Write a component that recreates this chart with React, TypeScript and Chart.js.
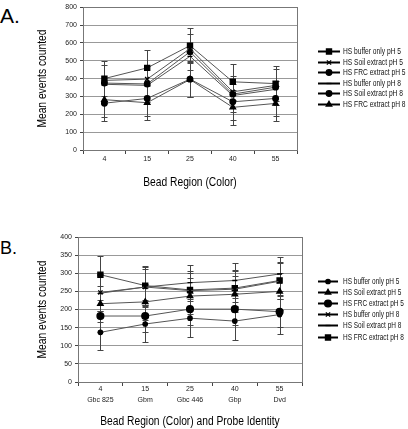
import React, { useEffect, useRef } from "react";
import { Chart, registerables } from "chart.js";
import { drawPoint } from "chart.js/helpers";

Chart.register(...registerables);

// ---------- Chart A data ----------
const categoriesA = ["4", "15", "25", "40", "55"];
const yTicksA = { min: 0, max: 800, step: 100 };
const namesA = [
  "HS buffer only pH 5",
  "HS Soil extract pH 5",
  "HS FRC extract pH 5",
  "HS buffer only pH 8",
  "HS Soil extract pH 8",
  "HS FRC extract pH 8",
];
const aBufferPH5 = [400, 460, 585, 382, 372];
const aSoilPH5 = [390, 397, 568, 326, 362];
const aFrcPH5 = [375, 370, 550, 313, 352];
const aBufferPH8 = [368, 362, 525, 305, 340];
const aSoilPH8 = [262, 289, 397, 270, 289];
const aFrcPH8 = [282, 265, 395, 239, 261];
const aErrBufferPH5 = [100, 100, 100, 100, 100];
const aErrSoilPH5 = [0, 0, 0, 0, 0];
const aErrFrcPH5 = [100, 100, 100, 100, 100];
const aErrBufferPH8 = [0, 0, 0, 0, 0];
const aErrSoilPH8 = [100, 100, 100, 100, 100];
const aErrFrcPH8 = [97, 97, 97, 97, 97];

// ---------- Chart B data ----------
const categoriesB = [
  ["4", "Gbc 825"],
  ["15", "Gbm"],
  ["25", "Gbc 446"],
  ["40", "Gbp"],
  ["55", "Dvd"],
];
const yTicksB = { min: 0, max: 400, step: 50 };
const namesB = [
  "HS buffer only pH 5",
  "HS Soil extract pH 5",
  "HS FRC extract pH 5",
  "HS buffer only pH 8",
  "HS Soil extract pH 8",
  "HS FRC extract pH 8",
];
const bBufferPH5 = [137, 160, 176, 168, 186];
const bSoilPH5 = [216, 221, 237, 242, 250];
const bFrcPH5 = [182, 182, 201, 201, 194];
const bBufferPH8 = [247, 262, 252, 256, 278];
const bSoilPH8 = [245, 262, 274, 280, 298];
const bFrcPH8 = [296, 266, 254, 259, 280];
const bErrBufferPH5 = [50, 50, 52, 52, 54];
const bErrSoilPH5 = [50, 50, 50, 50, 50];
const bErrFrcPH5 = [45, 45, 45, 45, 42];
const bErrBufferPH8 = [50, 50, 50, 50, 50];
const bErrSoilPH8 = [50, 55, 50, 48, 47];
const bErrFrcPH8 = [51, 54, 51, 50, 50];

const SANS = "'Liberation Sans', Arial, sans-serif";
const SQUEEZE = 0.82;

function ds(label: string, data: number[], err: number[], pointStyle: string, radius: number) {
  return {
    label,
    data,
    err,
    pointStyle,
    pointRadius: radius,
    pointHoverRadius: radius,
    borderColor: "#555",
    borderWidth: 1,
    pointBackgroundColor: "#000",
    pointBorderColor: "#000",
    pointBorderWidth: 1.3,
    fill: false,
    tension: 0,
  };
}

const errorBarPlugin = {
  id: "errorBars",
  beforeDatasetsDraw(chart: any) {
    const { ctx } = chart;
    const xs = chart.scales.x;
    const ys = chart.scales.y;
    ctx.save();
    ctx.strokeStyle = "#444";
    ctx.lineWidth = 1;
    chart.data.datasets.forEach((d: any) => {
      if (!d.err) return;
      d.data.forEach((v: number, i: number) => {
        const e = d.err[i];
        if (!e) return;
        const x = Math.round(xs.getPixelForValue(i)) + 0.5;
        const yt = Math.round(ys.getPixelForValue(v + e)) + 0.5;
        const yb = Math.round(ys.getPixelForValue(v - e)) + 0.5;
        ctx.beginPath();
        ctx.moveTo(x, yt);
        ctx.lineTo(x, yb);
        ctx.moveTo(x - 3, yt);
        ctx.lineTo(x + 3, yt);
        ctx.moveTo(x - 3, yb);
        ctx.lineTo(x + 3, yb);
        ctx.stroke();
      });
    });
    ctx.restore();
  },
};

const framePlugin = {
  id: "frame",
  beforeDatasetsDraw(chart: any) {
    const { ctx, chartArea: a } = chart;
    ctx.save();
    ctx.strokeStyle = "#777";
    ctx.lineWidth = 1;
    ctx.strokeRect(Math.round(a.left) + 0.5, Math.round(a.top) + 0.5, Math.round(a.right - a.left), Math.round(a.bottom - a.top));
    ctx.restore();
  },
};

const titlePlugin = {
  id: "axisTitles",
  afterDraw(chart: any, _args: any, opts: any) {
    const { ctx, chartArea: a } = chart;
    ctx.save();
    ctx.fillStyle = "#000";
    ctx.font = `${opts.size}px ${SANS}`;
    ctx.textAlign = "center";
    ctx.textBaseline = "middle";
    ctx.save();
    ctx.translate((a.left + a.right) / 2, opts.xTitleY);
    ctx.scale(SQUEEZE, 1);
    ctx.fillText(opts.xText, 0, 0);
    ctx.restore();
    ctx.save();
    ctx.translate(opts.yTitleX, (a.top + a.bottom) / 2);
    ctx.rotate(-Math.PI / 2);
    ctx.scale(SQUEEZE, 1);
    ctx.fillText(opts.yText, 0, 0);
    ctx.restore();
    ctx.restore();
  },
};

const legendPlugin = {
  id: "sideLegend",
  afterDraw(chart: any, _args: any, opts: any) {
    const { ctx } = chart;
    ctx.save();
    chart.data.datasets.forEach((d: any, i: number) => {
      const y = Math.round(opts.y + i * opts.spacing) + 0.5;
      ctx.strokeStyle = "#000";
      ctx.lineWidth = 2;
      ctx.beginPath();
      ctx.moveTo(opts.x, y);
      ctx.lineTo(opts.x + opts.lineLen, y);
      ctx.stroke();
      ctx.fillStyle = "#000";
      ctx.strokeStyle = "#000";
      ctx.lineWidth = 1.3;
      drawPoint(ctx, { pointStyle: d.pointStyle, radius: d.pointRadius, rotation: 0, borderWidth: 1.3 }, opts.x + opts.lineLen / 2, y);
      ctx.fillStyle = "#111";
      ctx.font = `${opts.fontSize}px ${SANS}`;
      ctx.textBaseline = "middle";
      ctx.textAlign = "left";
      ctx.save();
      ctx.translate(opts.textX, y);
      ctx.scale(opts.squeeze, 1);
      ctx.fillText(d.label, 0, 0);
      ctx.restore();
    });
    ctx.restore();
  },
};

function makeConfig(p: any) {
  return {
    type: "line",
    data: { labels: p.labels, datasets: p.datasets },
    plugins: [framePlugin, errorBarPlugin, legendPlugin, titlePlugin],
    options: {
      responsive: false,
      animation: false,
      devicePixelRatio: 1,
      layout: { padding: { left: 0, right: p.padRight, top: p.padTop, bottom: 0 } },
      plugins: {
        legend: { display: false },
        tooltip: { enabled: false },
        sideLegend: p.legend,
        axisTitles: { size: 12.5, xText: p.xTitle, yText: "Mean events counted", xTitleY: p.xTitleY, yTitleX: 43 },
      },
      scales: {
        x: {
          type: "category",
          offset: true,
          grid: { display: true, offset: true, drawOnChartArea: false, tickLength: 4, tickColor: "#444", color: "#444" },
          border: { display: true, color: "#444" },
          ticks: { color: "#222", font: { family: SANS, size: 7, lineHeight: p.xLineHeight }, padding: p.xTickPad, autoSkip: false, maxRotation: 0 },
          title: { display: false },
          afterFit: (s: any) => { s.height = p.xHeight; },
        },
        y: {
          min: p.yTicks.min,
          max: p.yTicks.max,
          grid: { color: "#999", lineWidth: 1, tickLength: 3, tickColor: "#444" },
          border: { display: true, color: "#444" },
          ticks: { stepSize: p.yTicks.step, color: "#222", font: { family: SANS, size: 7 }, padding: 3 },
          title: { display: false },
          afterFit: (s: any) => { s.width = p.yWidth; },
        },
      },
    },
  };
}

function ChartCanvas({ config, width, height, top }: any) {
  const ref = useRef<HTMLCanvasElement | null>(null);
  useEffect(() => {
    if (!ref.current) return;
    const c = new Chart(ref.current, config);
    return () => c.destroy();
  }, []);
  return (
    <canvas
      ref={ref}
      width={width}
      height={height}
      style={{ position: "absolute", left: 0, top, width, height }}
    />
  );
}

export default function App() {
  const cfgA = makeConfig({
    labels: categoriesA,
    datasets: [
      ds(namesA[0], aBufferPH5, aErrBufferPH5, "rect", 3.6),
      ds(namesA[1], aSoilPH5, aErrSoilPH5, "crossRot", 3),
      ds(namesA[2], aFrcPH5, aErrFrcPH5, "circle", 2.8),
      ds(namesA[3], aBufferPH8, aErrBufferPH8, "line", 2.5),
      ds(namesA[4], aSoilPH8, aErrSoilPH8, "circle", 2.8),
      ds(namesA[5], aFrcPH8, aErrFrcPH8, "triangle", 3.2),
    ],
    yTicks: yTicksA,
    xTitle: "Bead Region (Color)",
    xTitleY: 183,
    padRight: 111,
    padTop: 7,
    yWidth: 83,
    xHeight: 50,
    xTickPad: 1,
    xLineHeight: 1.2,
    legend: { x: 318, y: 51, spacing: 10.6, lineLen: 22, textX: 343, fontSize: 9, squeeze: 0.74 },
  });
  const cfgB = makeConfig({
    labels: categoriesB,
    datasets: [
      ds(namesB[0], bBufferPH5, bErrBufferPH5, "circle", 2.2),
      ds(namesB[1], bSoilPH5, bErrSoilPH5, "triangle", 3.2),
      ds(namesB[2], bFrcPH5, bErrFrcPH5, "circle", 3.4),
      ds(namesB[3], bBufferPH8, bErrBufferPH8, "crossRot", 3),
      ds(namesB[4], bSoilPH8, bErrSoilPH8, "line", 2.5),
      ds(namesB[5], bFrcPH8, bErrFrcPH8, "rect", 3.6),
    ],
    yTicks: yTicksB,
    xTitle: "Bead Region (Color) and Probe Identity",
    xTitleY: 206.5,
    padRight: 106,
    padTop: 22,
    yWidth: 78,
    xHeight: 47,
    xTickPad: -2,
    xLineHeight: 1.5,
    legend: { x: 318, y: 66, spacing: 11.1, lineLen: 20, textX: 343, fontSize: 9, squeeze: 0.72 },
  });
  return (
    <div style={{ position: "fixed", left: 0, top: 0, width: 408, height: 429, background: "#fff", overflow: "hidden" }}>
      <div style={{ position: "absolute", left: 0, top: 5, fontFamily: SANS, fontSize: 21, lineHeight: "21px", color: "#000" }}>A.</div>
      <div style={{ position: "absolute", left: 0, top: 239, fontFamily: SANS, fontSize: 18, lineHeight: "18px", color: "#000" }}>B.</div>
      <ChartCanvas config={cfgA} width={408} height={200} top={0} />
      <ChartCanvas config={cfgB} width={408} height={214} top={215} />
    </div>
  );
}
